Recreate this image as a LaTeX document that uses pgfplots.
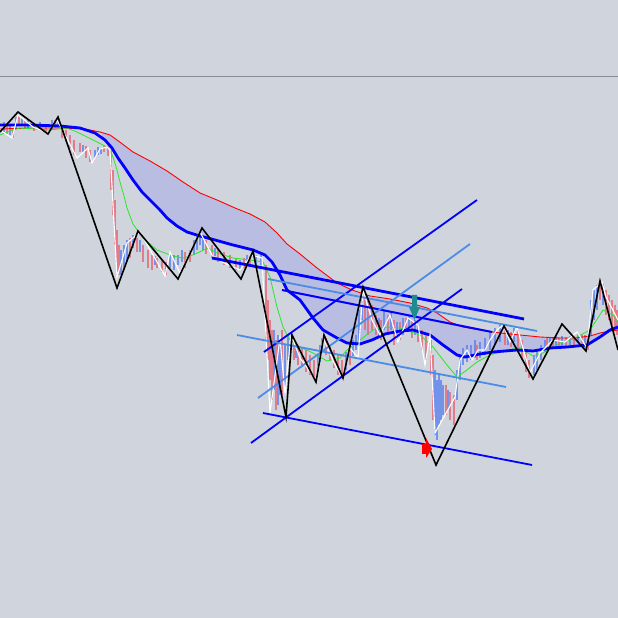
\documentclass[border=0pt]{standalone}
\usepackage{pgfplots}
\usepackage{pgfplotstable}
\pgfplotsset{compat=1.18}
\usepgfplotslibrary{fillbetween}
\definecolor{bg}{RGB}{208,212,220}
\definecolor{sep}{RGB}{135,140,150}
\definecolor{band}{RGB}{186,189,226}
\definecolor{candred}{RGB}{232,96,112}
\definecolor{candblue}{RGB}{84,124,240}
\definecolor{lblue}{RGB}{74,140,232}
\definecolor{tealarrow}{RGB}{30,140,140}
\definecolor{magreen}{RGB}{40,230,40}

\pgfplotstableread{
x t b
7 124 134
13 128 138
19 115 125
25 121 129
34 123 131
46 125 133
55 120 128
62 125 138
66 130 142
70 135 148
74 140 155
80 143 152
86 146 158
90 150 162
104 146 152
108 146 156
111 150 190
113 170 215
115 200 245
117 230 275
119 245 275
130 238 258
137 238 252
143 245 262
148 250 268
152 255 270
157 258 268
162 260 272
166 262 275
185 252 268
190 250 262
206 240 254
212 245 258
218 248 262
224 252 265
230 255 268
236 258 270
244 258 268
250 256 265
266 265 340
268 300 360
270 320 380
272 330 400
276 340 410
282 330 395
294 340 360
298 345 365
302 348 365
306 350 372
310 355 375
314 360 378
326 338 355
330 345 360
334 350 368
338 355 375
342 360 378
350 345 365
365 295 330
368 300 335
372 305 330
376 315 335
381 320 340
388 315 335
394 320 345
400 322 340
406 318 332
412 320 338
418 325 342
422 330 350
426 335 360
431 340 375
433 355 420
446 385 415
450 392 420
454 395 425
477 345 360
505 328 345
511 332 347
518 330 350
522 340 360
526 350 372
529 360 378
547 338 350
553 338 348
559 338 348
566 337 347
574 336 346
582 335 347
588 338 350
600 282 300
606 290 315
609 295 320
612 300 325
615 305 330
617 310 335
}\candRed

\pgfplotstableread{
x t b
4 122 132
10 125 135
16 117 128
22 118 126
28 120 128
40 122 130
52 120 130
58 118 126
83 145 152
95 150 158
98 147 155
101 148 154
121 250 275
124 245 268
127 240 262
133 235 248
140 240 252
155 256 265
170 255 268
174 255 270
178 255 265
182 250 262
194 240 255
197 235 250
200 232 245
203 236 250
215 248 256
240 260 270
247 255 264
256 255 268
261 255 265
274 330 390
278 335 405
280 340 395
285 345 395
288 335 360
291 333 350
296 342 358
318 355 372
320 345 362
322 338 352
346 352 370
353 340 356
356 335 350
359 310 340
362 290 320
379 318 336
384 310 330
391 312 330
397 322 340
403 318 335
409 316 332
415 320 335
435 370 435
437 380 440
439 375 425
441 380 420
443 385 415
448 390 410
457 370 400
460 355 380
463 348 365
467 345 362
471 345 360
475 340 358
480 342 358
485 338 355
490 332 350
495 328 345
500 325 342
508 330 345
514 328 342
534 355 375
537 350 370
541 345 360
545 340 352
550 337 348
556 336 346
562 336 346
570 336 345
578 333 343
585 335 348
591 300 335
594 290 320
597 285 310
603 284 305
}\candBlue

\begin{document}
\begin{tikzpicture}
\begin{axis}[
  width=618pt, height=618pt, scale only axis,
  xmin=0, xmax=618, ymin=0, ymax=618, y dir=reverse,
  axis background/.style={fill=bg},
  axis line style={draw=none}, ticks=none,
  clip=true,
]
% separator line
\addplot[sep, line width=1pt] coordinates {(0,77) (618,77)};

% MA paths for the band
\addplot[draw=none, name path=redA] coordinates {
(0,129) (30,128) (60,128) (85,129) (100,132) (110,135) (117,140) (125,146) (133,152) (150,161) (167,171) (183,182) (200,193) (217,200) (235,208) (250,214) (265,222) (277,233) (287,244) (300,254) (317,268) (337,283) (352,290) (370,296) (390,299) (410,303) (427,308) (437,313) (450,322) (463,327) (480,330) (500,333) (520,335) (540,337) (560,338) (575,338) (590,336) (600,333) (610,331) (618,330)};
\addplot[draw=none, name path=blueA] coordinates {
(0,125) (30,125) (60,126) (80,128) (95,133) (105,140) (112,148) (118,158) (125,168) (133,180) (142,192) (150,200) (160,210) (167,218) (177,226) (187,232) (200,236) (215,240) (233,245) (253,250) (265,255) (272,262) (280,275) (287,290) (300,300) (313,318) (323,330) (337,338) (347,343) (360,344) (372,340) (385,334) (400,331) (413,330) (430,335) (443,345) (457,355) (465,357) (480,354) (493,352) (517,350) (533,351) (550,348) (567,347) (587,345) (600,337) (610,330) (618,327)};
\addplot[band, draw=none] fill between[of=redA and blueA, soft clip={domain=102:606}];

% candles
\addplot[candred, line width=1.1pt, opacity=0.75, quiver={u=0, v=\thisrow{b}-\thisrow{t}}] table[x=x, y=t] {\candRed};
\addplot[candblue, line width=1.1pt, opacity=0.75, quiver={u=0, v=\thisrow{b}-\thisrow{t}}] table[x=x, y=t] {\candBlue};

% red MA
\addplot[red, line width=0.9pt] coordinates {
(0,129) (30,128) (60,128) (85,129) (100,132) (110,135) (117,140) (125,146) (133,152) (150,161) (167,171) (183,182) (200,193) (217,200) (235,208) (250,214) (265,222) (277,233) (287,244) (300,254) (317,268) (337,283) (352,290) (370,296) (390,299) (410,303) (427,308) (437,313) (450,322) (463,327) (480,330) (500,333) (520,335) (540,337) (560,338) (575,338) (590,336) (600,333) (610,331) (618,330)};
% green MA
\addplot[magreen, line width=0.8pt] coordinates {
(0,135) (10,131) (20,128) (50,130) (67,128) (77,132) (93,140) (105,146) (110,150) (113,157) (117,170) (120,182) (124,196) (127,208) (133,224) (143,238) (157,250) (173,256) (183,258) (193,255) (208,248) (217,253) (233,258) (250,260) (263,262) (270,277) (277,307) (283,327) (290,340) (300,347) (313,353) (327,361) (340,358) (347,350) (360,340) (373,330) (387,327) (400,328) (420,335) (433,347) (447,365) (457,377) (467,370) (477,362) (490,355) (507,350) (520,348) (533,356) (543,353) (560,343) (573,339) (590,330) (603,310) (613,315) (618,322)};
% blue MA
\addplot[blue, line width=2.8pt] coordinates {
(0,125) (30,125) (60,126) (80,128) (95,133) (105,140) (112,148) (118,158) (125,168) (133,180) (142,192) (150,200) (160,210) (167,218) (177,226) (187,232) (200,236) (215,240) (233,245) (253,250) (265,255) (272,262) (280,275) (287,290) (300,300) (313,318) (323,330) (337,338) (347,343) (360,344) (372,340) (385,334) (400,331) (413,330) (430,335) (443,345) (457,355) (465,357) (480,354) (493,352) (517,350) (533,351) (550,348) (567,347) (587,345) (600,337) (610,330) (618,327)};

% white zigzag
\addplot[white, line width=1.1pt] coordinates {
(0,130) (12,138) (18,115) (33,127) (48,133) (57,120) (65,135) (77,158) (88,148) (92,163) (100,149) (107,147) (110,150) (117,277) (127,243) (140,232) (165,276) (170,252) (180,273) (200,232) (213,257) (222,262) (240,270) (252,255) (262,258) (270,413) (280,338) (285,395) (291,335) (300,358) (316,380) (323,338) (335,365) (343,378) (350,348) (358,358) (363,290) (372,320) (380,335) (390,315) (398,342) (408,318) (418,325) (425,365) (430,335) (435,433) (455,397) (460,360) (467,350) (472,360) (478,350) (485,350) (490,340) (497,330) (503,325) (510,342) (517,327) (530,373) (540,353) (553,340) (565,342) (577,332) (587,348) (593,290) (602,282) (606,297) (618,320)};

% trend lines
\addplot[blue, line width=2.8pt] coordinates {(212,258) (524,319)};
\addplot[blue, line width=2pt] coordinates {(282,290) (492,332)};
\addplot[blue, line width=1.8pt] coordinates {(264,352) (477,200)};
\addplot[blue, line width=1.8pt] coordinates {(251,443) (462,289)};
\addplot[blue, line width=1.8pt] coordinates {(263,413) (532,465)};
\addplot[lblue, line width=1.8pt] coordinates {(237,335) (506,387)};
\addplot[lblue, line width=1.8pt] coordinates {(258,398) (470,244)};
\addplot[lblue, line width=1.8pt] coordinates {(268,279) (537,331)};

% black zigzag
\addplot[black, line width=1.6pt] coordinates {
(0,132) (18,112) (48,134) (58,117) (117,288) (138,231) (178,279) (202,228) (241,279) (253,251) (286,417) (292,335) (316,382) (324,335) (343,378) (363,287) (436,465) (504,326) (533,379) (562,324) (586,351) (600,281) (618,350)};

% arrows
\addplot[fill=tealarrow, draw=none] coordinates {(412,295) (417,295) (417,307) (420,307) (414.5,320) (409,307) (412,307)} -- cycle;
\addplot[fill=red, draw=none] coordinates {(422,444) (426,444) (426,438) (432,449) (426,458) (426,454) (422,454)} -- cycle;
\end{axis}
\end{tikzpicture}
\end{document}
